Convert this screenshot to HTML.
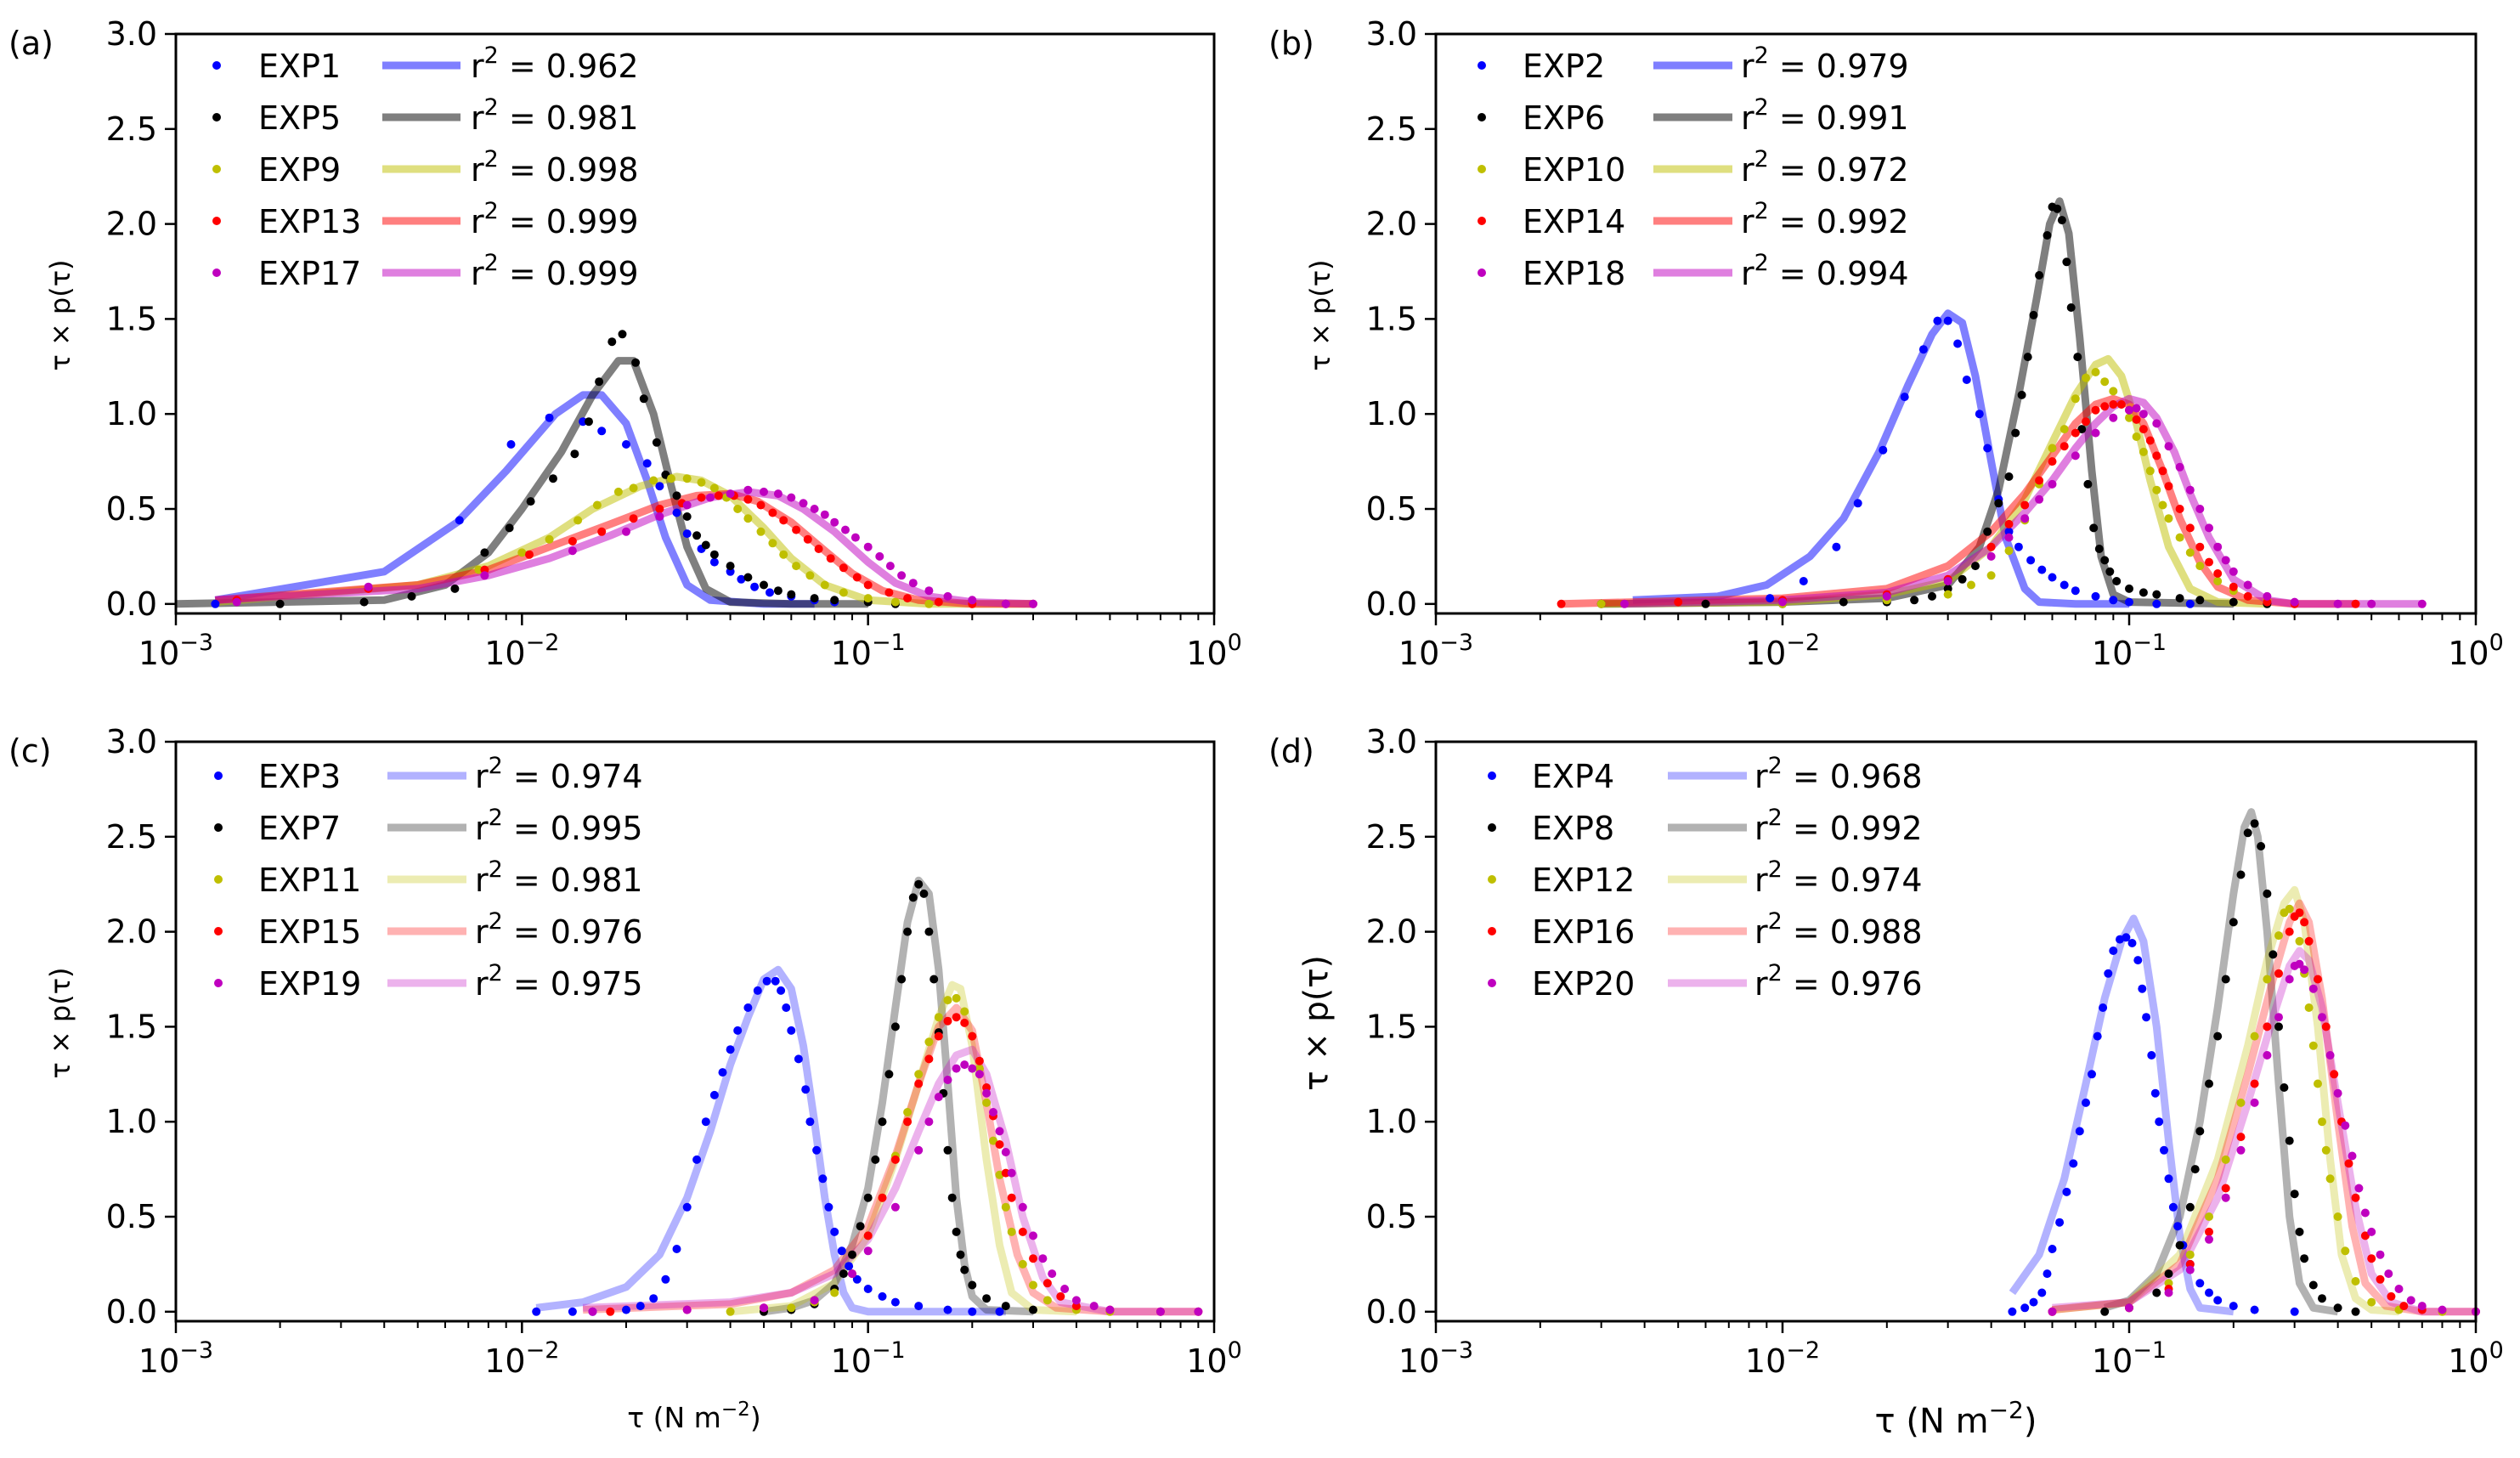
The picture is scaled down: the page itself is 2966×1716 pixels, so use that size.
<!DOCTYPE html>
<html><head><meta charset="utf-8"><title>Shear stress distributions</title>
<style>html,body{margin:0;padding:0;background:#fff}svg{display:block;font-family:"DejaVu Sans","Liberation Sans",sans-serif}</style>
</head><body>
<svg id="fig" width="2966" height="1716" viewBox="0 0 2966 1716" xmlns="http://www.w3.org/2000/svg"></svg>
<script>
// ---------- data (tau in N m^-2, value = tau x p(tau)) ----------
const xTickLabels = ["-3","-2","-1","0"];
const yTickLabels = ["0.0","0.5","1.0","1.5","2.0","2.5","3.0"];
const panelA_names = ["EXP1","EXP5","EXP9","EXP13","EXP17"];
const panelA_r2 = ["0.962","0.981","0.998","0.999","0.999"];
const panelB_names = ["EXP2","EXP6","EXP10","EXP14","EXP18"];
const panelB_r2 = ["0.979","0.991","0.972","0.992","0.994"];
const panelC_names = ["EXP3","EXP7","EXP11","EXP15","EXP19"];
const panelC_r2 = ["0.974","0.995","0.981","0.976","0.975"];
const panelD_names = ["EXP4","EXP8","EXP12","EXP16","EXP20"];
const panelD_r2 = ["0.968","0.992","0.974","0.988","0.976"];

const exp1Fit=[[0.0013,0.02],[0.004,0.17],[0.0065,0.43],[0.009,0.7],[0.0125,1.0],[0.015,1.1],[0.017,1.1],[0.02,0.95],[0.023,0.65],[0.026,0.35],[0.03,0.1],[0.035,0.02],[0.05,0.0],[0.07,0.0]];
const exp1Dots=[[0.0013,0],[0.0066,0.44],[0.0093,0.84],[0.012,0.98],[0.015,0.96],[0.017,0.91],[0.02,0.84],[0.023,0.74],[0.025,0.62],[0.028,0.48],[0.03,0.37],[0.033,0.29],[0.036,0.22],[0.04,0.17],[0.043,0.13],[0.047,0.09],[0.052,0.06],[0.06,0.04],[0.07,0.02],[0.08,0.01]];
const exp5Fit=[[0.001,0.0],[0.004,0.02],[0.006,0.1],[0.008,0.27],[0.01,0.5],[0.013,0.8],[0.016,1.1],[0.019,1.28],[0.021,1.28],[0.024,1.0],[0.027,0.62],[0.03,0.3],[0.034,0.08],[0.04,0.01],[0.06,0],[0.1,0]];
const exp5Dots=[[0.002,0],[0.0035,0.01],[0.0048,0.04],[0.0064,0.08],[0.0078,0.27],[0.0092,0.4],[0.0106,0.54],[0.0123,0.66],[0.0142,0.79],[0.0156,0.96],[0.0167,1.17],[0.0182,1.38],[0.0195,1.42],[0.0213,1.27],[0.0225,1.08],[0.0245,0.85],[0.026,0.68],[0.028,0.57],[0.03,0.46],[0.032,0.36],[0.034,0.31],[0.036,0.26],[0.04,0.2],[0.045,0.14],[0.05,0.1],[0.055,0.07],[0.06,0.05],[0.07,0.03],[0.08,0.02],[0.1,0.01],[0.12,0.0]];
const exp9Fit=[[0.0013,0.01],[0.005,0.1],[0.008,0.2],[0.012,0.35],[0.016,0.5],[0.022,0.62],[0.028,0.67],[0.033,0.65],[0.04,0.57],[0.05,0.4],[0.06,0.24],[0.075,0.1],[0.1,0.02],[0.15,0],[0.3,0]];
const exp9Dots=[[0.0075,0.18],[0.01,0.27],[0.012,0.34],[0.0145,0.44],[0.0165,0.52],[0.019,0.59],[0.021,0.61],[0.024,0.65],[0.027,0.66],[0.03,0.66],[0.033,0.64],[0.036,0.61],[0.039,0.56],[0.042,0.5],[0.045,0.45],[0.049,0.38],[0.053,0.32],[0.057,0.26],[0.062,0.2],[0.068,0.15],[0.075,0.1],[0.085,0.06],[0.1,0.03],[0.12,0.01],[0.15,0.0],[0.2,0]];
const exp13Fit=[[0.0013,0.02],[0.005,0.1],[0.008,0.18],[0.012,0.3],[0.018,0.42],[0.025,0.52],[0.032,0.57],[0.04,0.58],[0.048,0.54],[0.06,0.43],[0.075,0.28],[0.09,0.16],[0.11,0.07],[0.14,0.02],[0.2,0],[0.3,0]];
const exp13Dots=[[0.0015,0.02],[0.0036,0.08],[0.0078,0.18],[0.0105,0.26],[0.014,0.33],[0.017,0.38],[0.021,0.45],[0.025,0.5],[0.029,0.53],[0.033,0.56],[0.037,0.57],[0.041,0.57],[0.045,0.55],[0.049,0.52],[0.053,0.48],[0.057,0.44],[0.062,0.39],[0.067,0.34],[0.072,0.29],[0.078,0.24],[0.085,0.19],[0.093,0.14],[0.1,0.1],[0.115,0.06],[0.13,0.03],[0.16,0.01],[0.2,0],[0.25,0],[0.3,0]];
const exp17Fit=[[0.0013,0.02],[0.005,0.08],[0.008,0.15],[0.012,0.24],[0.018,0.36],[0.025,0.47],[0.035,0.56],[0.045,0.59],[0.055,0.57],[0.065,0.5],[0.08,0.38],[0.1,0.22],[0.12,0.11],[0.15,0.04],[0.2,0.01],[0.3,0]];
const exp17Dots=[[0.0015,0.01],[0.0036,0.09],[0.0078,0.15],[0.014,0.28],[0.02,0.38],[0.025,0.46],[0.03,0.52],[0.035,0.56],[0.04,0.58],[0.045,0.6],[0.05,0.59],[0.055,0.58],[0.06,0.56],[0.065,0.53],[0.07,0.5],[0.075,0.47],[0.08,0.43],[0.086,0.39],[0.092,0.35],[0.1,0.3],[0.108,0.25],[0.116,0.2],[0.125,0.15],[0.135,0.11],[0.15,0.07],[0.17,0.04],[0.2,0.02],[0.25,0.0],[0.3,0]];

const exp2Fit=[[0.0037,0.02],[0.0065,0.04],[0.009,0.1],[0.012,0.25],[0.015,0.45],[0.019,0.8],[0.023,1.15],[0.027,1.42],[0.03,1.53],[0.033,1.48],[0.036,1.2],[0.04,0.75],[0.044,0.35],[0.05,0.08],[0.055,0.01],[0.07,0],[0.1,0]];
const exp2Dots=[[0.0092,0.03],[0.0115,0.12],[0.0143,0.3],[0.0165,0.53],[0.0195,0.81],[0.0225,1.09],[0.0255,1.34],[0.028,1.49],[0.03,1.49],[0.032,1.37],[0.034,1.18],[0.037,1.0],[0.039,0.82],[0.042,0.55],[0.045,0.38],[0.048,0.3],[0.052,0.23],[0.056,0.18],[0.06,0.14],[0.065,0.1],[0.07,0.07],[0.08,0.04],[0.09,0.02],[0.1,0.01],[0.12,0.0],[0.15,0]];
const exp6Fit=[[0.003,0],[0.01,0.01],[0.02,0.03],[0.03,0.1],[0.037,0.3],[0.042,0.6],[0.048,1.1],[0.054,1.6],[0.059,2.0],[0.063,2.12],[0.067,1.95],[0.072,1.4],[0.078,0.7],[0.083,0.25],[0.09,0.05],[0.1,0.01],[0.2,0]];
const exp6Dots=[[0.003,0],[0.006,0],[0.01,0.0],[0.015,0.01],[0.02,0.01],[0.024,0.02],[0.027,0.04],[0.03,0.08],[0.033,0.13],[0.036,0.2],[0.039,0.38],[0.042,0.53],[0.045,0.67],[0.047,0.9],[0.049,1.1],[0.051,1.3],[0.053,1.52],[0.055,1.73],[0.058,1.94],[0.06,2.09],[0.062,2.08],[0.064,2.02],[0.066,1.8],[0.068,1.56],[0.071,1.3],[0.073,0.92],[0.076,0.63],[0.079,0.4],[0.082,0.29],[0.085,0.23],[0.088,0.17],[0.092,0.12],[0.1,0.08],[0.11,0.06],[0.12,0.05],[0.14,0.03],[0.16,0.02],[0.2,0.01],[0.25,0]];
const exp10Fit=[[0.003,0],[0.01,0.01],[0.02,0.05],[0.03,0.12],[0.04,0.3],[0.05,0.55],[0.06,0.85],[0.07,1.1],[0.08,1.26],[0.087,1.29],[0.095,1.2],[0.105,0.95],[0.115,0.65],[0.13,0.3],[0.15,0.08],[0.18,0.01],[0.25,0]];
const exp10Dots=[[0.003,0],[0.01,0.0],[0.02,0.02],[0.03,0.05],[0.035,0.1],[0.04,0.15],[0.045,0.28],[0.05,0.44],[0.055,0.63],[0.06,0.82],[0.065,0.92],[0.07,1.08],[0.075,1.19],[0.08,1.22],[0.085,1.17],[0.09,1.12],[0.095,1.05],[0.1,0.98],[0.105,0.88],[0.11,0.8],[0.115,0.7],[0.12,0.6],[0.125,0.52],[0.13,0.45],[0.14,0.35],[0.15,0.27],[0.16,0.2],[0.18,0.12],[0.2,0.07],[0.25,0.02],[0.3,0]];
const exp14Fit=[[0.0023,0],[0.01,0.03],[0.02,0.08],[0.03,0.2],[0.04,0.38],[0.05,0.58],[0.06,0.78],[0.07,0.95],[0.08,1.05],[0.09,1.08],[0.1,1.05],[0.11,0.95],[0.125,0.7],[0.14,0.45],[0.16,0.22],[0.18,0.09],[0.22,0.02],[0.3,0],[0.45,0]];
const exp14Dots=[[0.0023,0],[0.005,0.01],[0.01,0.02],[0.02,0.05],[0.03,0.13],[0.04,0.3],[0.045,0.42],[0.05,0.52],[0.055,0.65],[0.06,0.75],[0.065,0.83],[0.07,0.9],[0.075,0.96],[0.08,1.02],[0.085,1.04],[0.09,1.05],[0.095,1.05],[0.1,1.02],[0.105,0.97],[0.11,0.92],[0.115,0.86],[0.12,0.78],[0.125,0.7],[0.13,0.62],[0.14,0.5],[0.15,0.4],[0.16,0.3],[0.17,0.22],[0.18,0.16],[0.2,0.09],[0.22,0.04],[0.25,0.01],[0.3,0],[0.45,0]];
const exp18Fit=[[0.0035,0],[0.01,0.02],[0.02,0.06],[0.03,0.15],[0.04,0.3],[0.05,0.48],[0.06,0.65],[0.07,0.82],[0.08,0.95],[0.09,1.04],[0.1,1.08],[0.11,1.06],[0.12,0.98],[0.135,0.8],[0.15,0.58],[0.17,0.35],[0.2,0.13],[0.25,0.02],[0.3,0],[0.7,0]];
const exp18Dots=[[0.0035,0],[0.01,0.01],[0.02,0.04],[0.03,0.12],[0.04,0.25],[0.045,0.35],[0.05,0.45],[0.055,0.55],[0.06,0.63],[0.07,0.78],[0.08,0.9],[0.09,0.98],[0.1,1.02],[0.105,1.03],[0.11,1.0],[0.12,0.95],[0.13,0.83],[0.14,0.72],[0.15,0.6],[0.16,0.5],[0.17,0.4],[0.18,0.3],[0.19,0.23],[0.2,0.17],[0.22,0.1],[0.25,0.04],[0.3,0.01],[0.4,0],[0.5,0],[0.7,0]];

const exp3Fit=[[0.011,0.02],[0.015,0.05],[0.02,0.13],[0.025,0.3],[0.03,0.6],[0.035,0.95],[0.04,1.3],[0.045,1.55],[0.05,1.75],[0.055,1.8],[0.06,1.7],[0.065,1.4],[0.07,1.0],[0.075,0.6],[0.08,0.3],[0.085,0.1],[0.09,0.02],[0.1,0],[0.25,0]];
const exp3Dots=[[0.011,0],[0.014,0],[0.016,0],[0.02,0.01],[0.022,0.03],[0.024,0.07],[0.026,0.17],[0.028,0.33],[0.03,0.55],[0.032,0.8],[0.034,1.0],[0.036,1.14],[0.038,1.26],[0.04,1.38],[0.042,1.48],[0.045,1.6],[0.048,1.69],[0.051,1.74],[0.054,1.74],[0.056,1.69],[0.058,1.6],[0.06,1.48],[0.063,1.33],[0.066,1.17],[0.068,1.0],[0.071,0.85],[0.074,0.7],[0.077,0.55],[0.08,0.42],[0.084,0.32],[0.088,0.24],[0.093,0.17],[0.1,0.12],[0.11,0.08],[0.12,0.05],[0.14,0.03],[0.17,0.01],[0.2,0],[0.24,0]];
const exp7Fit=[[0.05,0],[0.06,0.02],[0.07,0.06],[0.08,0.15],[0.09,0.35],[0.1,0.65],[0.11,1.1],[0.12,1.6],[0.13,2.05],[0.14,2.27],[0.15,2.2],[0.16,1.8],[0.17,1.2],[0.18,0.6],[0.19,0.25],[0.2,0.08],[0.22,0.01],[0.3,0]];
const exp7Dots=[[0.05,0],[0.06,0.01],[0.07,0.04],[0.08,0.12],[0.085,0.2],[0.09,0.3],[0.095,0.45],[0.1,0.6],[0.105,0.8],[0.11,1.0],[0.115,1.25],[0.12,1.5],[0.125,1.75],[0.13,2.0],[0.135,2.18],[0.14,2.25],[0.145,2.2],[0.15,2.0],[0.155,1.75],[0.16,1.47],[0.165,1.15],[0.17,0.85],[0.175,0.6],[0.18,0.42],[0.185,0.3],[0.19,0.22],[0.2,0.14],[0.22,0.07],[0.25,0.03],[0.3,0.01]];
const exp11Fit=[[0.04,0],[0.06,0.03],[0.08,0.15],[0.1,0.4],[0.12,0.8],[0.14,1.2],[0.16,1.55],[0.175,1.72],[0.185,1.7],[0.2,1.4],[0.22,0.8],[0.24,0.35],[0.26,0.1],[0.3,0.01],[0.4,0]];
const exp11Dots=[[0.04,0],[0.06,0.02],[0.07,0.05],[0.08,0.1],[0.09,0.2],[0.1,0.4],[0.11,0.6],[0.12,0.82],[0.13,1.05],[0.14,1.25],[0.15,1.42],[0.16,1.55],[0.17,1.64],[0.18,1.65],[0.19,1.58],[0.2,1.45],[0.21,1.28],[0.22,1.1],[0.23,0.9],[0.24,0.72],[0.25,0.55],[0.26,0.42],[0.28,0.25],[0.3,0.14],[0.33,0.06],[0.4,0.01],[0.5,0]];
const exp15Fit=[[0.015,0.01],[0.04,0.04],[0.06,0.1],[0.08,0.22],[0.1,0.45],[0.12,0.82],[0.14,1.2],[0.16,1.5],[0.18,1.6],[0.2,1.48],[0.22,1.1],[0.24,0.7],[0.27,0.3],[0.3,0.1],[0.35,0.02],[0.5,0],[0.9,0]];
const exp15Dots=[[0.018,0],[0.03,0.01],[0.05,0.02],[0.07,0.06],[0.09,0.2],[0.1,0.4],[0.11,0.6],[0.12,0.8],[0.13,1.0],[0.14,1.2],[0.15,1.33],[0.16,1.45],[0.17,1.53],[0.18,1.55],[0.19,1.52],[0.2,1.45],[0.21,1.32],[0.22,1.18],[0.23,1.03],[0.24,0.88],[0.25,0.73],[0.26,0.6],[0.28,0.42],[0.3,0.28],[0.33,0.15],[0.36,0.08],[0.4,0.03],[0.5,0.01],[0.7,0],[0.9,0]];
const exp19Fit=[[0.015,0.02],[0.04,0.05],[0.06,0.1],[0.08,0.2],[0.1,0.38],[0.12,0.65],[0.14,0.95],[0.16,1.2],[0.18,1.35],[0.2,1.38],[0.22,1.25],[0.25,0.9],[0.28,0.5],[0.32,0.18],[0.36,0.05],[0.5,0],[0.9,0]];
const exp19Dots=[[0.016,0],[0.03,0.01],[0.05,0.02],[0.07,0.06],[0.09,0.2],[0.1,0.32],[0.12,0.55],[0.14,0.85],[0.15,1.0],[0.16,1.13],[0.17,1.22],[0.18,1.28],[0.19,1.3],[0.2,1.28],[0.21,1.25],[0.22,1.15],[0.23,1.05],[0.24,0.95],[0.25,0.84],[0.26,0.73],[0.28,0.55],[0.3,0.4],[0.32,0.28],[0.34,0.2],[0.37,0.12],[0.4,0.06],[0.45,0.03],[0.5,0.01],[0.7,0],[0.9,0]];

const exp4Fit=[[0.046,0.1],[0.055,0.3],[0.065,0.7],[0.075,1.2],[0.085,1.65],[0.095,1.95],[0.103,2.07],[0.11,1.95],[0.12,1.5],[0.13,0.9],[0.14,0.4],[0.15,0.12],[0.16,0.02],[0.2,0]];
const exp4Dots=[[0.046,0],[0.05,0.02],[0.053,0.05],[0.056,0.1],[0.058,0.2],[0.06,0.33],[0.063,0.47],[0.066,0.63],[0.069,0.78],[0.072,0.95],[0.075,1.1],[0.078,1.25],[0.081,1.45],[0.084,1.6],[0.087,1.78],[0.09,1.9],[0.094,1.96],[0.098,1.97],[0.102,1.94],[0.106,1.85],[0.109,1.7],[0.112,1.55],[0.116,1.35],[0.119,1.15],[0.122,1.0],[0.126,0.85],[0.13,0.7],[0.134,0.55],[0.138,0.45],[0.143,0.35],[0.15,0.25],[0.16,0.15],[0.17,0.1],[0.18,0.06],[0.2,0.03],[0.23,0.01],[0.3,0]];
const exp8Fit=[[0.085,0.02],[0.1,0.06],[0.12,0.2],[0.14,0.5],[0.16,1.0],[0.18,1.6],[0.2,2.2],[0.215,2.55],[0.225,2.63],[0.235,2.5],[0.25,2.0],[0.27,1.2],[0.29,0.5],[0.31,0.15],[0.34,0.02],[0.4,0]];
const exp8Dots=[[0.085,0],[0.1,0.02],[0.12,0.1],[0.13,0.2],[0.14,0.35],[0.15,0.55],[0.155,0.75],[0.16,0.95],[0.17,1.2],[0.18,1.45],[0.19,1.75],[0.2,2.05],[0.21,2.3],[0.22,2.52],[0.23,2.57],[0.24,2.45],[0.25,2.2],[0.26,1.88],[0.27,1.5],[0.28,1.18],[0.29,0.9],[0.3,0.62],[0.31,0.42],[0.32,0.28],[0.34,0.14],[0.36,0.07],[0.4,0.02],[0.45,0]];
const exp12Fit=[[0.06,0.01],[0.1,0.05],[0.14,0.3],[0.18,0.8],[0.22,1.4],[0.25,1.85],[0.28,2.15],[0.3,2.22],[0.32,2.05],[0.35,1.5],[0.38,0.8],[0.41,0.3],[0.45,0.07],[0.5,0.01],[0.6,0]];
const exp12Dots=[[0.06,0],[0.1,0.02],[0.13,0.15],[0.15,0.3],[0.17,0.5],[0.19,0.8],[0.21,1.1],[0.23,1.45],[0.25,1.75],[0.27,1.98],[0.28,2.1],[0.29,2.12],[0.3,2.08],[0.31,1.95],[0.32,1.78],[0.33,1.6],[0.34,1.4],[0.35,1.2],[0.36,1.0],[0.37,0.85],[0.38,0.7],[0.4,0.5],[0.42,0.32],[0.45,0.16],[0.5,0.05],[0.6,0.01],[0.8,0]];
const exp16Fit=[[0.06,0.01],[0.1,0.05],[0.14,0.25],[0.18,0.7],[0.22,1.25],[0.26,1.75],[0.29,2.05],[0.31,2.15],[0.33,2.05],[0.36,1.65],[0.4,1.0],[0.44,0.45],[0.48,0.15],[0.55,0.03],[0.7,0],[1.0,0]];
const exp16Dots=[[0.06,0],[0.1,0.02],[0.13,0.12],[0.15,0.25],[0.17,0.42],[0.19,0.65],[0.21,0.92],[0.23,1.2],[0.25,1.5],[0.27,1.78],[0.29,2.0],[0.3,2.08],[0.31,2.1],[0.32,2.05],[0.33,1.95],[0.35,1.75],[0.37,1.5],[0.39,1.25],[0.41,1.0],[0.43,0.78],[0.45,0.6],[0.48,0.4],[0.5,0.28],[0.53,0.17],[0.57,0.08],[0.62,0.03],[0.7,0.01],[1.0,0]];
const exp20Fit=[[0.06,0.02],[0.1,0.05],[0.14,0.22],[0.18,0.6],[0.22,1.1],[0.26,1.55],[0.29,1.82],[0.31,1.9],[0.33,1.85],[0.36,1.6],[0.4,1.1],[0.45,0.55],[0.5,0.2],[0.57,0.05],[0.7,0],[1.0,0]];
const exp20Dots=[[0.06,0],[0.1,0.02],[0.13,0.1],[0.15,0.22],[0.17,0.38],[0.19,0.6],[0.21,0.85],[0.23,1.1],[0.25,1.35],[0.27,1.55],[0.29,1.75],[0.3,1.82],[0.31,1.83],[0.32,1.8],[0.34,1.7],[0.36,1.55],[0.38,1.35],[0.4,1.15],[0.42,0.98],[0.44,0.82],[0.46,0.65],[0.48,0.52],[0.5,0.42],[0.53,0.3],[0.56,0.2],[0.6,0.12],[0.65,0.06],[0.7,0.03],[0.8,0.01],[1.0,0]];

// ---------- layout ----------
const NS="http://www.w3.org/2000/svg";
const svg=document.getElementById('fig');
const dotColors=["#0000ff","#000000","#bfbf00","#ff0000","#bf00bf"];
function mk(tag,attrs,parent){const e=document.createElementNS(NS,tag);for(const k in attrs)e.setAttribute(k,attrs[k]);parent.appendChild(e);return e;}

const panels=[
 {id:"a",x0:207,x1:1429,y0:40,y1:722,names:panelA_names,r2:panelA_r2,fits:[exp1Fit,exp5Fit,exp9Fit,exp13Fit,exp17Fit],dots:[exp1Dots,exp5Dots,exp9Dots,exp13Dots,exp17Dots],alpha:0.5,leg:{dot:48,txt:97,l0:243,l1:335,r:347,row0:37},ylab:{dx:-136,fs:32},xlab:null},
 {id:"b",x0:1690,x1:2914,y0:40,y1:722,names:panelB_names,r2:panelB_r2,fits:[exp2Fit,exp6Fit,exp10Fit,exp14Fit,exp18Fit],dots:[exp2Dots,exp6Dots,exp10Dots,exp14Dots,exp18Dots],alpha:0.5,leg:{dot:54,txt:102,l0:256,l1:349,r:359,row0:37},ylab:{dx:-136,fs:32},xlab:null},
 {id:"c",x0:207,x1:1429,y0:873,y1:1555,names:panelC_names,r2:panelC_r2,fits:[exp3Fit,exp7Fit,exp11Fit,exp15Fit,exp19Fit],dots:[exp3Dots,exp7Dots,exp11Dots,exp15Dots,exp19Dots],alpha:0.3,leg:{dot:50,txt:97,l0:249,l1:342,r:352,row0:40},ylab:{dx:-136,fs:32},xlab:{cx:817,cy:1680,fs:33}},
 {id:"d",x0:1690,x1:2914,y0:873,y1:1555,names:panelD_names,r2:panelD_r2,fits:[exp4Fit,exp8Fit,exp12Fit,exp16Fit,exp20Fit],dots:[exp4Dots,exp8Dots,exp12Dots,exp16Dots,exp20Dots],alpha:0.3,leg:{dot:66,txt:113,l0:273,l1:366,r:375,row0:40},ylab:{dx:-140,fs:39},xlab:{cx:2302,cy:1686,fs:40}}
];

panels.forEach(p=>{
 const g=mk('g',{},svg);
 
 
 const ppu=(p.y1-p.y0)/3.05;
 const yS=v=>p.y1-(v+0.05)*ppu;
 const xS=t=>p.x0+(Math.log10(t)+3)/3*(p.x1-p.x0);
 // series
 p.fits.forEach((f,i)=>{
  const pl=mk('polyline',{points:f.map(d=>xS(d[0]).toFixed(1)+','+yS(d[1]).toFixed(1)).join(' '),fill:'none',stroke:dotColors[i],'stroke-opacity':p.alpha,'stroke-width':9,'stroke-linejoin':'round','stroke-linecap':'butt'},g);
  
  
 });
 p.dots.forEach((ds,i)=>{
  const dg=mk('g',{fill:dotColors[i]},g);
  
  
  ds.forEach(d=>{
   const c=mk('circle',{cx:xS(d[0]).toFixed(1),cy:yS(d[1]).toFixed(1),r:5},dg);
   
   
  });
 });
 // frame
 const fr=mk('rect',{x:p.x0,y:p.y0,width:p.x1-p.x0,height:p.y1-p.y0,fill:'none',stroke:'#000','stroke-width':3},g);
 
 
 // y ticks
 yTickLabels.forEach((lab,i)=>{
  const y=yS(parseFloat(lab));
  const tk=mk('line',{x1:p.x0-13,x2:p.x0,y1:y,y2:y,stroke:'#000','stroke-width':2.5},g);
  
  
  const t=mk('text',{x:p.x0-22,y:y+13,'text-anchor':'end','font-size':38},g);
  t.textContent=lab;
  
  
 });
 // x ticks
 xTickLabels.forEach((lab,i)=>{
  const e=parseInt(lab);
  const x=xS(Math.pow(10,e));
  const tk=mk('line',{x1:x,x2:x,y1:p.y1,y2:p.y1+14,stroke:'#000','stroke-width':2.5},g);
  
  
  const t=mk('text',{x:x,y:p.y1+60,'text-anchor':'middle','font-size':38},g);
  
  
  const b=mk('tspan',{},t);b.textContent='10';
  const s=mk('tspan',{dy:-17,'font-size':27},t);s.textContent=(e<0?'\u2212'+(-e):''+e);
  if(e<0){for(let m=2;m<10;m++){const xm=xS(m*Math.pow(10,e));const mt=mk('line',{x1:xm,x2:xm,y1:p.y1,y2:p.y1+8,stroke:'#000','stroke-width':2},g);
   
   }}
 });
 // panel label
 const pl=mk('text',{x:p.x0-197,y:p.y0+24,'font-size':38},g);
 pl.textContent='('+p.id+')';
 
 
 // y label
 const cy=(p.y0+p.y1)/2-10;
 const yl=mk('text',{x:p.x0+p.ylab.dx,y:cy,'text-anchor':'middle','font-size':p.ylab.fs,transform:`rotate(-90 ${p.x0+p.ylab.dx} ${cy})`,'dominant-baseline':'central'},g);
 yl.textContent='\u03c4 \u00d7 p(\u03c4)';
 
 
 if(p.xlab){
  const xl=mk('text',{x:p.xlab.cx,y:p.xlab.cy,'text-anchor':'middle','font-size':p.xlab.fs},g);
  
  
  const a=mk('tspan',{},xl);a.textContent='\u03c4 (N m';
  const s=mk('tspan',{dy:-p.xlab.fs*0.42,'font-size':p.xlab.fs*0.7},xl);s.textContent='\u22122';
  const c=mk('tspan',{dy:p.xlab.fs*0.42},xl);c.textContent=')';
 }
 // legend
 const lg=mk('g',{},g);
 
 
 p.names.forEach((n,i)=>{
  const ry=p.y0+p.leg.row0+61*i;
  const e=mk('g',{},lg);
  
  
  mk('circle',{cx:p.x0+p.leg.dot,cy:ry,r:5,fill:dotColors[i]},e);
  const t=mk('text',{x:p.x0+p.leg.txt,y:ry+14,'font-size':38},e);t.textContent=n;
  mk('line',{x1:p.x0+p.leg.l0,x2:p.x0+p.leg.l1,y1:ry,y2:ry,stroke:dotColors[i],'stroke-opacity':p.alpha,'stroke-width':9},e);
  const r=mk('text',{x:p.x0+p.leg.r,y:ry+14,'font-size':38},e);
  const a=mk('tspan',{},r);a.textContent='r';
  const s=mk('tspan',{dy:-17,'font-size':27},r);s.textContent='2';
  const b=mk('tspan',{dy:17},r);b.textContent=' = '+p.r2[i];
 });
});
</script>
</body></html>
